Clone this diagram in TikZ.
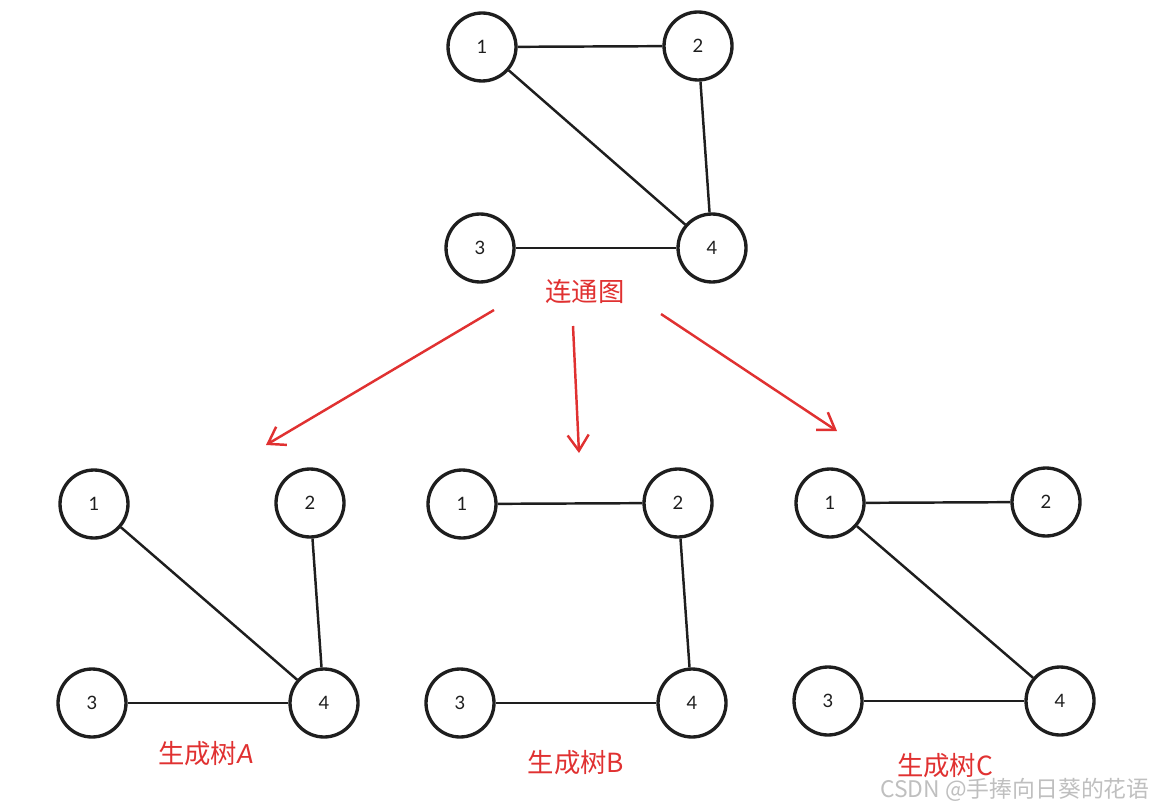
\documentclass[tikz,border=0pt]{standalone}
\usepackage{fontspec}
\setmainfont{Lato}
\newfontfamily\cjk{Noto Sans CJK SC}
\usetikzlibrary{arrows.meta}
\definecolor{exred}{HTML}{E03131}
\definecolor{ink}{HTML}{1E1E1E}
\begin{document}
\begin{tikzpicture}[x=0.02cm,y=-0.02cm,
  vtx/.style={circle,draw=ink,line width=1.9pt,minimum size=1.36cm,inner sep=0pt,font=\fontsize{10.5}{12}\selectfont,text=ink},
  edge/.style={draw=ink,line width=1.4pt},
  lbl/.style={text=exred,font=\cjk\fontsize{15}{17}\selectfont},
  redarrow/.style={draw=exred,line width=1.4pt,-{Straight Barb[length=9pt,width=12pt,line width=1.4pt]}}]
\useasboundingbox (0,0) rectangle (1151,810);
% top graph
\node[vtx] (t1) at (482,47) {1};
\node[vtx] (t2) at (698,46) {2};
\node[vtx] (t3) at (480,248) {3};
\node[vtx] (t4) at (712,248) {4};
\draw[edge] (t1) -- (t2);
\draw[edge] (t1) -- (t4);
\draw[edge] (t2) -- (t4);
\draw[edge] (t3) -- (t4);
\node[lbl] (lt) at (585,292) {连通图};
% arrows
\coordinate (a1s) at (494,310); \coordinate (a1e) at (266,445);
\coordinate (a2s) at (573,326); \coordinate (a2e) at (579,453);
\coordinate (a3s) at (661,314); \coordinate (a3e) at (837,431);
\draw[redarrow] (a1s) -- (a1e);
\draw[redarrow] (a2s) -- (a2e);
\draw[redarrow] (a3s) -- (a3e);
% tree A
\node[vtx] (a1) at (94,504) {1};
\node[vtx] (a2) at (310,503) {2};
\node[vtx] (a3) at (92,703) {3};
\node[vtx] (a4) at (324,703) {4};
\draw[edge] (a1) -- (a4);
\draw[edge] (a2) -- (a4);
\draw[edge] (a3) -- (a4);
\node[lbl] (la) at (206,754) {生成树{\rmfamily\itshape A}};
% tree B
\node[vtx] (b1) at (462,504) {1};
\node[vtx] (b2) at (678,503) {2};
\node[vtx] (b3) at (460,703) {3};
\node[vtx] (b4) at (692,703) {4};
\draw[edge] (b1) -- (b2);
\draw[edge] (b2) -- (b4);
\draw[edge] (b3) -- (b4);
\node[lbl] (lb) at (576,763) {生成树B};
% tree C
\node[vtx] (c1) at (830,503) {1};
\node[vtx] (c2) at (1046,502) {2};
\node[vtx] (c3) at (828,701) {3};
\node[vtx] (c4) at (1060,701) {4};
\draw[edge] (c1) -- (c2);
\draw[edge] (c1) -- (c4);
\draw[edge] (c3) -- (c4);
\node[lbl] (lc) at (945,766) {生成树C};
% watermark
\node[text=black!25,font=\cjk\fontsize{13}{15}\selectfont] (wm) at (1015,790) {CSDN @手捧向日葵的花语};
\end{tikzpicture}
\end{document}
